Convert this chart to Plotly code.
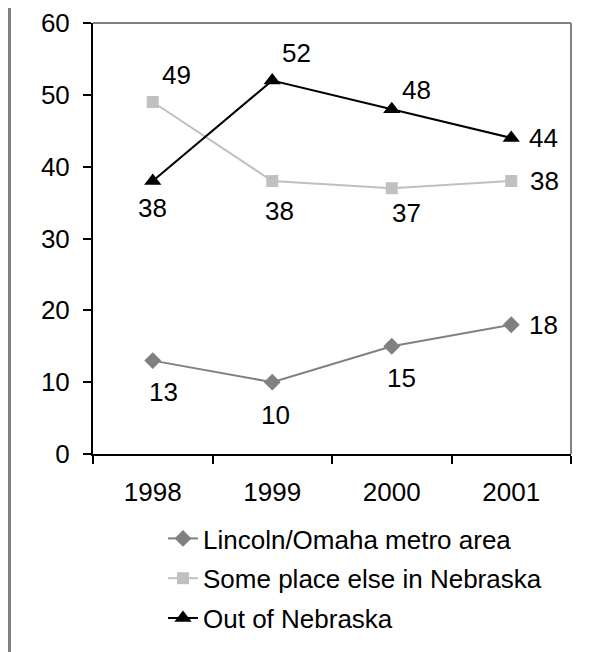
import plotly.graph_objects as go

years = ["1998", "1999", "2000", "2001"]
lincoln = [13, 10, 15, 18]
someplace = [49, 38, 37, 38]
outside = [38, 52, 48, 44]
names = ["Lincoln/Omaha metro area", "Some place else in Nebraska", "Out of Nebraska"]
y_ticks = [0, 10, 20, 30, 40, 50, 60]

# label offsets (px) per point, styling only
lincoln_off = [(11, -31), (3, -33), (10, -32), (32, 0)]
some_off = [(24, 27), (7, -30), (15, -25), (33, 0)]
out_off = [(0, -27), (24, 27), (25, 19), (32, 0)]

FONT = "Liberation Sans, Arial, sans-serif"
FS = 26

# page body has an 8px margin, so figure pixels are window pixels minus 8
W, H = 588, 652
L, T = 85, 15
plot_right, plot_bottom = 563, 446  # figure px
R = W - plot_right
B = 0
PW = W - L - R
PH = H - T - B
dom_bottom = (H - B - plot_bottom) / PH

fig = go.Figure()
series = [
    (lincoln, names[0], "#808080", "diamond", 13, lincoln_off),
    (someplace, names[1], "#C0C0C0", "square", 12, some_off),
    (outside, names[2], "#000000", "triangle-up", 15, out_off),
]
annotations = []
for vals, name, col, sym, ms, offs in series:
    fig.add_trace(go.Scatter(
        x=years, y=vals, name=name, mode="lines+markers",
        line=dict(color=col, width=2),
        marker=dict(symbol=sym, size=ms, color=col),
        legendgroup=name,
    ))
    for i, (yv, (dx, dy)) in enumerate(zip(vals, offs)):
        annotations.append(dict(
            x=i, y=yv, xref="x", yref="y", text=str(yv), showarrow=False,
            xshift=dx, yshift=dy,
            font=dict(family=FONT, size=FS, color="#000000"),
        ))

shapes = [
    dict(type="line", xref="x domain", yref="y domain", x0=0, x1=1, y0=1, y1=1,
         line=dict(color="#808080", width=2)),
    dict(type="line", xref="x domain", yref="y domain", x0=1, x1=1, y0=0, y1=1,
         line=dict(color="#808080", width=2)),
    dict(type="line", xref="paper", yref="paper", x0=(1.5 - L) / PW, x1=(1.5 - L) / PW,
         y0=-0.1, y1=1.1, line=dict(color="#808080", width=3)),
]

fig.update_layout(
    width=W, height=H,
    margin=dict(l=L, r=R, t=T, b=B),
    paper_bgcolor="white", plot_bgcolor="white",
    font=dict(family=FONT, size=FS, color="#000000"),
    showlegend=True,
    legend=dict(
        x=(155 - L) / PW, xanchor="left",
        y=(H - B - 507) / PH, yanchor="top",
        font=dict(family=FONT, size=FS, color="#000000"),
        tracegroupgap=3, bgcolor="rgba(0,0,0,0)",
    ),
    annotations=annotations,
    shapes=shapes,
    xaxis=dict(
        type="category", range=[-0.5, 3.5], tickson="boundaries",
        ticks="outside", ticklen=8, tickcolor="#000000", tickwidth=2,
        showline=True, linecolor="#000000", linewidth=2,
        showgrid=False, zeroline=False, ticklabelstandoff=14,
        tickfont=dict(family=FONT, size=FS), automargin=False,
    ),
    yaxis=dict(
        domain=[dom_bottom, 1],
        range=[0, 60], tickvals=y_ticks,
        ticks="outside", ticklen=8, tickcolor="#000000", tickwidth=2,
        showline=True, linecolor="#000000", linewidth=2,
        showgrid=False, zeroline=False, ticklabelstandoff=8,
        tickfont=dict(family=FONT, size=FS), automargin=False,
    ),
)

fig.write_html("out.html")
